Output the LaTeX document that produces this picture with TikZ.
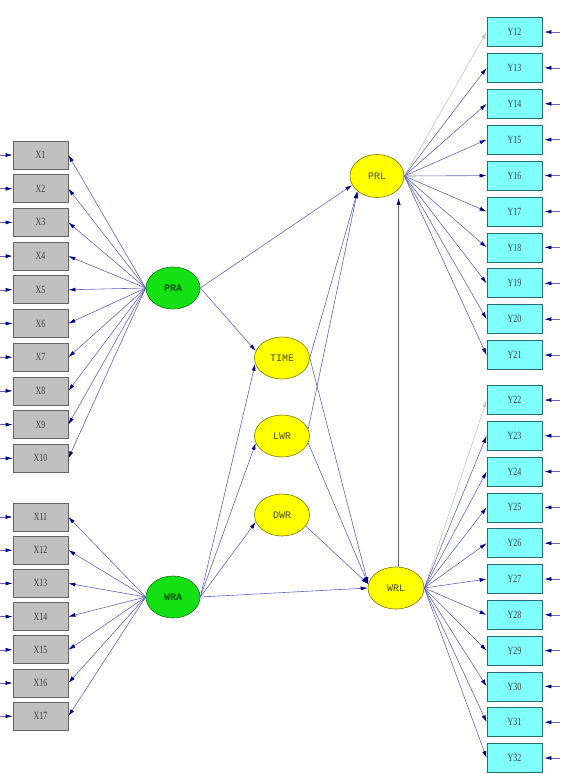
\documentclass[tikz,border=0pt]{standalone}
\usepackage{fontspec}
\usetikzlibrary{shapes.geometric,arrows.meta,calc}
\newfontfamily\boxfont[FakeStretch=0.72]{Liberation Serif}
\newfontfamily\ellfont{Liberation Mono}
\definecolor{xfill}{RGB}{192,192,192}
\definecolor{xborder}{RGB}{100,100,100}
\definecolor{yfill}{RGB}{128,255,255}
\definecolor{yborder}{RGB}{40,110,110}
\definecolor{gfill}{RGB}{20,225,20}
\definecolor{gborder}{RGB}{20,110,20}
\definecolor{gtext}{RGB}{0,80,0}
\definecolor{yelfill}{RGB}{255,255,0}
\definecolor{yelborder}{RGB}{120,120,0}
\definecolor{yeltext}{RGB}{80,80,20}
\definecolor{linec}{RGB}{100,100,190}
\definecolor{tipc}{RGB}{0,0,128}
\definecolor{lightg}{RGB}{195,195,195}
\tikzset{
  xbox/.style={draw=xborder,fill=xfill,line width=0.8pt,minimum width=55pt,minimum height=28pt,inner sep=0pt,font=\boxfont\fontsize{11}{11}\selectfont,text=black!75},
  ybox/.style={draw=yborder,fill=yfill,line width=0.8pt,minimum width=55pt,minimum height=29pt,inner sep=0pt,font=\boxfont\fontsize{11}{11}\selectfont,text=black!75},
  gell/.style={ellipse,draw=gborder,fill=gfill,line width=0.6pt,minimum width=54pt,minimum height=42pt,inner sep=0pt,font=\ellfont\bfseries\fontsize{10}{10}\selectfont,text=gtext},
  yell/.style={ellipse,draw=yelborder,fill=yelfill,line width=0.6pt,minimum width=55pt,minimum height=42pt,inner sep=0pt,font=\ellfont\fontsize{10}{10}\selectfont,text=yeltext},
  arr/.style={draw=linec,line width=0.6pt,-{Latex[length=7pt,width=4pt,color=tipc]}},
  garr/.style={draw=lightg,line width=0.6pt,-{Latex[length=7pt,width=4pt,color=lightg]}},
}
\begin{document}
\begin{tikzpicture}[x=1pt,y=-1pt]
\useasboundingbox (0,0) rectangle (565,774);
% X boxes
\foreach \i in {1,...,10} {
  \node[xbox] (X\i) at (40.5,{155+(\i-1)*33.7}) {X\i};
}
\foreach \i in {11,...,17} {
  \node[xbox] (X\i) at (40.5,{517+(\i-11)*33.2}) {X\i};
}
% Y boxes
\foreach \i in {12,...,21} {
  \node[ybox] (Y\i) at (514.5,{32+(\i-12)*35.9}) {Y\i};
}
\foreach \i in {22,...,32} {
  \node[ybox] (Y\i) at (514.5,{400+(\i-22)*35.8}) {Y\i};
}
% latent variables
\node[gell] (PRA) at (173,288) {PRA};
\node[gell] (WRA) at (173,597) {WRA};
\node[yell] (TIME) at (282,358) {TIME};
\node[yell] (LWR) at (282,436) {LWR};
\node[yell] (DWR) at (282,515) {DWR};
\node[yell,minimum width=54pt,minimum height=43pt] (PRL) at (377,176) {PRL};
\node[yell,minimum width=56pt] (WRL) at (396,588) {WRL};
% error arrows
\foreach \i in {1,...,17} {
  \draw[arr] ($(X\i.west)+(-13,0)$) -- (X\i.west);
}
\foreach \i in {12,...,32} {
  \draw[arr] ($(Y\i.east)+(18,0)$) -- ($(Y\i.east)+(2,0)$);
}
% loadings
\foreach \i in {1,...,10} { \draw[arr] (PRA.west) -- (X\i.east); }
\foreach \i in {11,...,17} { \draw[arr] (WRA.west) -- (X\i.east); }
\draw[garr] (PRL.east) -- (Y12.west);
\foreach \i in {13,...,21} { \draw[arr] (PRL.east) -- (Y\i.west); }
\draw[garr] (WRL.east) -- (Y22.west);
\foreach \i in {23,...,32} { \draw[arr] (WRL.east) -- (Y\i.west); }
% structural paths
\draw[arr] (PRA.east) -- (PRL.200);
\draw[arr] (PRA.east) -- (TIME.165);
\draw[arr] (WRA.east) -- (TIME.192);
\draw[arr] (WRA.east) -- (LWR.195);
\draw[arr] (WRA.east) -- (DWR.195);
\draw[arr] (WRA.east) -- (WRL.180);
\draw[arr] (TIME.east) -- (PRL.218);
\draw[arr] (LWR.15) -- (PRL.218);
\draw[arr] (TIME.east) -- (WRL.172);
\draw[arr] (LWR.-15) -- (WRL.172);
\draw[arr] (DWR.-25) -- (WRL.172);
\draw[arr] (WRL.83) -- (WRL.83 |- PRL.south);
\end{tikzpicture}
\end{document}
